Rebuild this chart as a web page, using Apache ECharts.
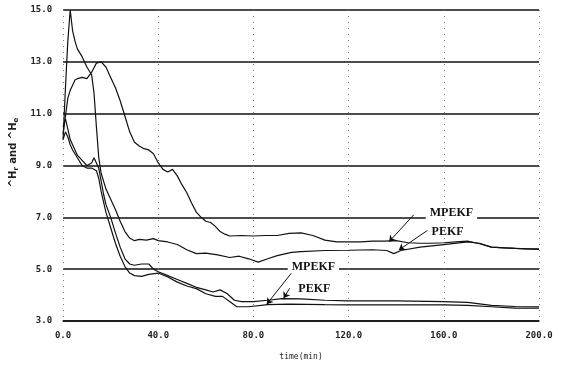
<!DOCTYPE html>
<html>
<head>
<meta charset="utf-8">
<script src="https://cdn.jsdelivr.net/npm/echarts@6/dist/echarts.min.js"></script>
<style>
html,body{margin:0;padding:0;background:#fff;}
#c{width:561px;height:372px;}
</style>
</head>
<body>
<div id="c"></div>
<script>
// x ticks (time, min) and y ticks
var xTicks = [0, 40, 80, 120, 160, 200];
var yTicks = [3, 5, 7, 9, 11, 13, 15];

// Series data: [time(min), value]
var upperMPEKF = [[0,10.2],[1,10.9],[2,11.6],[3,11.9],[4,12.1],[5,12.3],[6,12.35],[8,12.4],[10,12.35],[12,12.6],[14,12.95],[16,13.0],[18,12.8],[20,12.4],[22,12.0],[24,11.5],[26,10.9],[28,10.3],[30,9.9],[32,9.75],[34,9.65],[36,9.6],[38,9.45],[40,9.1],[42,8.85],[44,8.75],[46,8.85],[48,8.6],[50,8.25],[52,7.95],[54,7.55],[56,7.2],[58,7.0],[60,6.85],[62,6.8],[64,6.65],[66,6.45],[68,6.35],[70,6.28],[75,6.3],[80,6.28],[85,6.3],[90,6.3],[95,6.38],[100,6.4],[105,6.3],[110,6.12],[115,6.05],[120,6.05],[125,6.05],[130,6.08],[135,6.08],[140,6.1],[145,6.02],[150,6.0],[155,6.0],[160,6.02],[165,6.05],[170,6.08],[175,5.98],[180,5.85],[185,5.82],[190,5.8],[195,5.78],[200,5.78]];
var upperPEKF = [[0,10.0],[1,12.0],[2,13.8],[3,15.0],[4,14.2],[5,13.8],[6,13.5],[8,13.2],[10,12.8],[12,12.5],[13,11.8],[14,10.5],[15,9.3],[16,8.7],[18,8.1],[20,7.7],[22,7.3],[24,6.85],[26,6.45],[28,6.2],[30,6.1],[32,6.15],[35,6.12],[38,6.18],[40,6.1],[44,6.05],[48,5.95],[52,5.75],[56,5.6],[60,5.62],[65,5.55],[70,5.45],[74,5.5],[78,5.4],[82,5.27],[86,5.4],[90,5.52],[96,5.65],[100,5.68],[110,5.72],[120,5.73],[130,5.75],[136,5.72],[139,5.6],[142,5.72],[150,5.85],[160,5.95],[170,6.05],[175,6.0],[180,5.85],[190,5.8],[200,5.76]];
var lowerPEKF = [[0,10.5],[1,10.8],[2,10.4],[3,10.0],[4,9.8],[5,9.6],[6,9.4],[8,9.2],[10,9.0],[12,9.1],[13,9.3],[14,9.1],[15,8.9],[16,8.4],[17,7.9],[18,7.5],[20,7.0],[22,6.4],[24,5.85],[26,5.4],[28,5.2],[30,5.15],[33,5.2],[36,5.2],[38,5.0],[40,4.9],[44,4.75],[48,4.6],[52,4.45],[56,4.3],[60,4.2],[63,4.12],[66,4.2],[69,4.05],[72,3.8],[75,3.75],[80,3.75],[86,3.8],[92,3.86],[100,3.85],[110,3.8],[120,3.78],[140,3.78],[160,3.75],[170,3.72],[180,3.6],[190,3.56],[200,3.55]];
var lowerMPEKF = [[0,10.0],[1,10.3],[2,10.1],[3,9.8],[4,9.6],[6,9.3],[8,9.0],[10,8.9],[12,8.9],[14,8.8],[15,8.5],[16,8.0],[17,7.6],[18,7.2],[20,6.6],[22,6.0],[24,5.5],[26,5.1],[28,4.85],[30,4.75],[33,4.72],[36,4.8],[40,4.85],[44,4.7],[48,4.5],[52,4.35],[56,4.25],[60,4.05],[64,3.95],[67,3.95],[70,3.75],[73,3.55],[78,3.55],[86,3.63],[95,3.65],[110,3.63],[120,3.62],[140,3.62],[160,3.62],[170,3.6],[180,3.55],[190,3.5],[200,3.5]];

// Annotation labels: [text, time, value]
var labels = [['MPEKF',163.2,7.16],['PEKF',161.6,6.42],['MPEKF',105.2,5.07],['PEKF',105.6,4.23]];
// Leader arrows: [fromT, fromV, toT, toV]
var leaders = [[147.4,7.1,137,6.06],[153.2,6.5,141.1,5.74],[96.9,4.96,85.6,3.65],[95.2,4.26,92.7,3.88]];

var chart = echarts.init(document.getElementById('c'), null, {renderer:'canvas'});

function lineSeries(name, data, extra){
  var s = {
    name: name, type: 'line', data: data, symbol: 'none', smooth: false,
    lineStyle: {color: '#111', width: 1.2}, z: 3, animation: false
  };
  if (extra) for (var k in extra) s[k] = extra[k];
  return s;
}

var markPts = labels.map(function(l){
  return {coord:[l[1], l[2]], value:l[0], symbol:'rect', symbolSize:[1,1], itemStyle:{color:'rgba(0,0,0,0)'},
    label:{show:true, position:'inside', formatter:l[0], color:'#111', fontFamily:'Liberation Serif', fontWeight:'bold', fontSize:12, backgroundColor:'#fff', padding:[0,4,0,4]}};
});
var markLns = leaders.map(function(m){
  return [{coord:[m[0], m[1]], symbol:'none'}, {coord:[m[2], m[3]], symbol:'arrow', symbolSize:6}];
});

var option = {
  backgroundColor: '#fff',
  animation: false,
  grid: {left: 60, right: 22, top: 10, bottom: 51},
  xAxis: {
    type: 'value', min: 0, max: 200, interval: 40,
    name: 'time(min)', nameLocation: 'middle', nameGap: 32,
    nameTextStyle: {fontFamily: 'DejaVu Sans Mono', fontSize: 8, color: '#222'},
    axisLine: {show: true, lineStyle: {color: '#111', width: 1.5}},
    axisTick: {show: false},
    axisLabel: {margin: 10, fontFamily: 'DejaVu Sans Mono', fontWeight: 'bold', fontSize: 9, color: '#222',
      formatter: function(v){ return v.toFixed(1); }},
    splitLine: {show: true, lineStyle: {color: '#777', width: 1, type: [1, 5]}}
  },
  yAxis: {
    type: 'value', min: 3, max: 15, interval: 2,
    name: '^H{s|r} and ^H{s|e}', nameLocation: 'middle', nameGap: 43, nameRotate: 90,
    nameTextStyle: {fontFamily: 'DejaVu Sans', fontSize: 10, fontWeight: 'bold', color: '#222', padding: [0,0,0,26],
      rich: {s: {fontSize: 7, fontWeight: 'bold', fontFamily: 'DejaVu Sans', color: '#222', verticalAlign: 'bottom', padding:[6,0,0,0]}}},
    axisLine: {show: false},
    axisTick: {show: false},
    axisLabel: {margin: 11, fontFamily: 'DejaVu Sans Mono', fontWeight: 'bold', fontSize: 9, color: '#222',
      formatter: function(v){ return v.toFixed(1); }},
    splitLine: {show: true, lineStyle: {color: '#111', width: 1.5}}
  },
  series: [
    lineSeries('MPEKF upper', upperMPEKF, {
      markPoint: {data: markPts, animation: false, z: 10},
      markLine: {silent: true, animation: false, data: markLns, label: {show: false},
        lineStyle: {color: '#111', width: 1, type: 'solid', curveness: 0.25}}
    }),
    lineSeries('PEKF upper', upperPEKF),
    lineSeries('PEKF lower', lowerPEKF),
    lineSeries('MPEKF lower', lowerMPEKF)
  ]
};
chart.setOption(option);
</script>
</body>
</html>
